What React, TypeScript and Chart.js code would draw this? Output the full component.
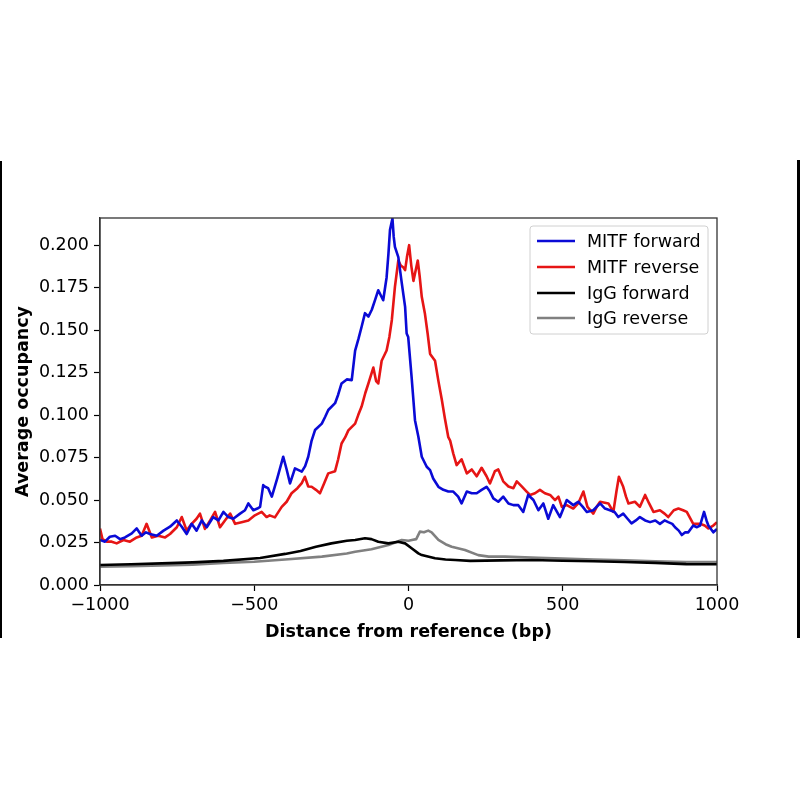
import { useRef, useEffect } from "react";
import { Chart, registerables } from "chart.js";

Chart.register(...registerables);

// MITF forward (blue)
const mitfFwdX = [
  -1000, -984, -968, -951, -935, -919, -897, -881, -865, -851, -838, -816, -794, -773, -751, -735,
  -719, -703, -687, -670, -654, -633, -616, -600, -584, -568, -546, -530, -519, -503, -490, -481,
  -471, -465, -455, -443, -425, -406, -395, -384, -368, -346, -335, -325, -314, -303, -281, -270,
  -260, -238, -228, -217, -200, -184, -173, -162, -152, -141, -130, -119, -108, -98, -82, -71, -65,
  -60, -52, -48, -44, -33, -22, -11, -6, -1, 10, 21, 32, 43, 59, 70, 80, 97, 113, 129, 145, 161,
  172, 189, 205, 221, 237, 253, 264, 275, 291, 307, 324, 340, 356, 372, 388, 405, 421, 437, 453,
  469, 491, 513, 534, 550, 565, 578, 599, 621, 637, 653, 668, 680, 696, 710, 723, 737, 750, 767,
  783, 800, 815, 830, 842, 855, 864, 876, 886, 897, 907, 923, 935, 945, 958, 966, 972, 988, 1000,
];
const mitfFwdY = [
  0.0265, 0.0255, 0.0284, 0.029, 0.027, 0.028, 0.0304, 0.0333, 0.029, 0.031, 0.03, 0.029, 0.032,
  0.0343, 0.038, 0.0343, 0.03, 0.036, 0.032, 0.038, 0.034, 0.04, 0.038, 0.043, 0.04, 0.039, 0.042,
  0.044, 0.048, 0.044, 0.045, 0.046, 0.0588, 0.0578, 0.057, 0.052, 0.063, 0.0755, 0.068, 0.0598,
  0.0686, 0.0667, 0.07, 0.0755, 0.085, 0.0912, 0.095, 0.099, 0.103, 0.107, 0.112, 0.1186, 0.121,
  0.1206, 0.138, 0.145, 0.152, 0.16, 0.158, 0.162, 0.168, 0.1735, 0.1676, 0.181, 0.195, 0.209,
  0.2157, 0.205, 0.199, 0.193, 0.178, 0.1637, 0.148, 0.146, 0.1225, 0.097, 0.0873, 0.0755, 0.0696,
  0.0676, 0.0627, 0.0578, 0.056, 0.055, 0.055, 0.052, 0.048, 0.055, 0.054, 0.054, 0.056, 0.0578,
  0.055, 0.051, 0.049, 0.052, 0.048, 0.047, 0.047, 0.043, 0.053, 0.05, 0.044, 0.048, 0.039, 0.047,
  0.04, 0.05, 0.047, 0.049, 0.046, 0.043, 0.044, 0.048, 0.045, 0.044, 0.043, 0.04, 0.042, 0.039,
  0.0363, 0.038, 0.04, 0.038, 0.037, 0.038, 0.036, 0.038, 0.037, 0.036, 0.034, 0.032, 0.0294,
  0.031, 0.031, 0.035, 0.034, 0.035, 0.043, 0.038, 0.035, 0.031, 0.033,
];

// MITF reverse (red)
const mitfRevX = [
  -1000, -992, -978, -962, -946, -924, -903, -881, -865, -849, -832, -811, -789, -773, -751, -735,
  -719, -703, -687, -676, -660, -643, -627, -611, -595, -578, -562, -541, -519, -498, -476, -460,
  -450, -433, -411, -395, -379, -360, -346, -336, -325, -314, -300, -287, -273, -260, -238, -228,
  -217, -205, -195, -173, -163, -152, -140, -130, -114, -105, -98, -87, -71, -62, -54, -44, -33,
  -25, -17, -11, -5, 2, 9, 16, 23, 30, 36, 43, 53, 62, 70, 86, 97, 108, 118, 129, 135, 145, 156,
  172, 189, 205, 221, 237, 253, 264, 280, 291, 307, 324, 340, 351, 367, 383, 394, 410, 426, 442,
  459, 475, 486, 497, 513, 534, 550, 567, 580, 599, 610, 621, 648, 664, 674, 682, 696, 705, 713,
  734, 750, 767, 780, 794, 815, 830, 842, 860, 875, 890, 902, 923, 945, 960, 972, 988, 1000,
];
const mitfRevY = [
  0.0333, 0.027, 0.0255, 0.0255, 0.0245, 0.0265, 0.0255, 0.028, 0.029, 0.036, 0.028, 0.029, 0.028,
  0.03, 0.034, 0.04, 0.032, 0.036, 0.039, 0.042, 0.033, 0.038, 0.043, 0.034, 0.038, 0.042, 0.036,
  0.037, 0.038, 0.041, 0.043, 0.04, 0.041, 0.0398, 0.046, 0.049, 0.054, 0.057, 0.06, 0.0637,
  0.058, 0.0578, 0.056, 0.054, 0.06, 0.0657, 0.067, 0.074, 0.0833, 0.087, 0.091, 0.095, 0.1, 0.105,
  0.113, 0.1186, 0.128, 0.12, 0.1186, 0.132, 0.138, 0.146, 0.156, 0.1755, 0.191, 0.188, 0.187,
  0.1853, 0.193, 0.2, 0.188, 0.179, 0.185, 0.191, 0.182, 0.1696, 0.16, 0.148, 0.136, 0.132, 0.12,
  0.109, 0.098, 0.087, 0.085, 0.0775, 0.0706, 0.074, 0.0657, 0.068, 0.064, 0.069, 0.064, 0.0598,
  0.067, 0.068, 0.061, 0.058, 0.057, 0.061, 0.058, 0.055, 0.053, 0.054, 0.056, 0.054, 0.053, 0.05,
  0.052, 0.046, 0.047, 0.045, 0.048, 0.055, 0.046, 0.042, 0.046, 0.049, 0.048, 0.043, 0.055,
  0.0637, 0.0578, 0.052, 0.048, 0.049, 0.046, 0.053, 0.048, 0.043, 0.044, 0.042, 0.04, 0.044,
  0.045, 0.044, 0.043, 0.036, 0.036, 0.035, 0.0333, 0.035, 0.037,
];

// IgG forward (black)
const iggFwdX = [
  -1000, -900, -800, -700, -600, -481, -400, -350, -300, -250, -200, -173, -141, -120, -98, -65,
  -33, -11, 10, 32, 43, 86, 120, 151, 200, 300, 400, 500, 600, 700, 800, 900, 1000,
];
const iggFwdY = [
  0.0118, 0.0122, 0.0127, 0.0133, 0.0142, 0.0159, 0.0183, 0.02, 0.0225, 0.0245, 0.026, 0.0265,
  0.0275, 0.027, 0.0255, 0.0245, 0.0255, 0.0245, 0.0216, 0.0186, 0.0176, 0.0157, 0.015, 0.0147,
  0.0142, 0.0145, 0.0147, 0.0143, 0.014, 0.0135, 0.013, 0.0123, 0.0122,
];

// IgG reverse (grey)
const iggRevX = [
  -1000, -900, -800, -700, -600, -500, -400, -281, -200, -173, -120, -65, -22, 0, 11, 25, 37, 50,
  64, 75, 97, 120, 140, 183, 226, 260, 313, 421, 500, 600, 700, 800, 900, 1000,
];
const iggRevY = [
  0.0108, 0.011, 0.0115, 0.012, 0.013, 0.0137, 0.015, 0.0167, 0.0185, 0.0196, 0.021, 0.0235,
  0.0265, 0.026, 0.0265, 0.027, 0.0314, 0.031, 0.032, 0.031, 0.0265, 0.024, 0.0225, 0.0206,
  0.0176, 0.0167, 0.0167, 0.016, 0.0155, 0.015, 0.0145, 0.014, 0.0135, 0.0135,
];

const seriesNames = ["MITF forward", "MITF reverse", "IgG forward", "IgG reverse"];
const seriesColors = ["#0a0ad6", "#e61515", "#000000", "#808080"];

const toPoints = (xs: number[], ys: number[]) => xs.map((x, i) => ({ x, y: ys[i] }));

const FONT = "'DejaVu Sans', sans-serif";

const framePlugin = {
  id: "frame",
  afterDatasetsDraw(chart: any) {
    const { ctx, chartArea: a } = chart;
    ctx.save();
    // axes box
    ctx.strokeStyle = "#333";
    ctx.lineWidth = 1.3;
    ctx.strokeRect(a.left, a.top, a.right - a.left, a.bottom - a.top);

    // legend inside, upper right
    const bx = 530, by = 226, bw = 178, bh = 108;
    ctx.fillStyle = "rgba(255,255,255,0.8)";
    ctx.strokeStyle = "#d0d0d0";
    ctx.lineWidth = 1;
    ctx.beginPath();
    ctx.roundRect(bx, by, bw, bh, 3);
    ctx.fill();
    ctx.stroke();
    const rows = [241, 267, 293, 318];
    ctx.font = `17.5px ${FONT}`;
    ctx.textBaseline = "middle";
    ctx.textAlign = "left";
    seriesNames.forEach((name, i) => {
      ctx.strokeStyle = seriesColors[i];
      ctx.lineWidth = 2.6;
      ctx.beginPath();
      ctx.moveTo(537, rows[i]);
      ctx.lineTo(575, rows[i]);
      ctx.stroke();
      ctx.fillStyle = "#000";
      ctx.fillText(name, 587, rows[i] + 1);
    });

    // the picture's own side edges
    ctx.fillStyle = "#000";
    ctx.fillRect(0, 161, 2, 477);
    ctx.fillRect(797, 160, 3, 478);
    ctx.restore();
  },
};

const App = () => {
  const canvasRef = useRef<HTMLCanvasElement | null>(null);

  useEffect(() => {
    const ctx = canvasRef.current?.getContext("2d");
    if (!ctx) return;

    const chart = new Chart(ctx, {
      type: "line",
      data: {
        datasets: [
          { label: seriesNames[0], data: toPoints(mitfFwdX, mitfFwdY) },
          { label: seriesNames[1], data: toPoints(mitfRevX, mitfRevY) },
          { label: seriesNames[2], data: toPoints(iggFwdX, iggFwdY) },
          { label: seriesNames[3], data: toPoints(iggRevX, iggRevY) },
        ].map((d, i) => ({
          ...d,
          borderColor: seriesColors[i],
          backgroundColor: seriesColors[i],
          borderWidth: 2.6,
          borderJoinStyle: "round" as const,
          pointRadius: 0,
          tension: 0,
          fill: false,
        })),
      },
      options: {
        responsive: false,
        animation: false,
        parsing: false,
        layout: { padding: { left: 0, right: 83, top: 218, bottom: 157 } },
        plugins: { legend: { display: false }, tooltip: { enabled: false } },
        scales: {
          x: {
            type: "linear",
            min: -1000,
            max: 1000,
            afterFit: (s: any) => {
              s.height = 58;
            },
            ticks: {
              stepSize: 500,
              padding: 4,
              color: "#000",
              font: { family: FONT, size: 17.5 },
              maxRotation: 0,
              callback: (v: any) => String(v).replace("-", "\u2212"),
            },
            grid: { drawOnChartArea: false, tickLength: 6, color: "#000", tickWidth: 1.2 },
            border: { color: "#333", width: 1.3 },
            title: {
              display: true,
              text: "Distance from reference (bp)",
              color: "#000",
              font: { family: FONT, size: 17.5, weight: "bold" },
              padding: { top: 4, bottom: 0 },
            },
          },
          y: {
            type: "linear",
            min: 0,
            max: 0.216,
            afterFit: (s: any) => {
              s.width = 100;
            },
            ticks: {
              stepSize: 0.025,
              includeBounds: false,
              padding: 5,
              color: "#000",
              font: { family: FONT, size: 17.5 },
              callback: (v: any) => Number(v).toFixed(3),
            },
            grid: { drawOnChartArea: false, tickLength: 6, color: "#000", tickWidth: 1.2 },
            border: { color: "#333", width: 1.3 },
            title: {
              display: true,
              text: "Average occupancy",
              color: "#000",
              font: { family: FONT, size: 17.5, weight: "bold" },
              padding: { top: 13, bottom: 0 },
            },
          },
        },
      },
      plugins: [framePlugin],
    });

    return () => {
      chart.destroy();
    };
  }, []);

  return (
    <div style={{ position: "fixed", left: 0, top: 0, width: 800, height: 800, background: "#fff" }}>
      <canvas ref={canvasRef} width={800} height={800} style={{ display: "block" }}></canvas>
    </div>
  );
};

export default App;
